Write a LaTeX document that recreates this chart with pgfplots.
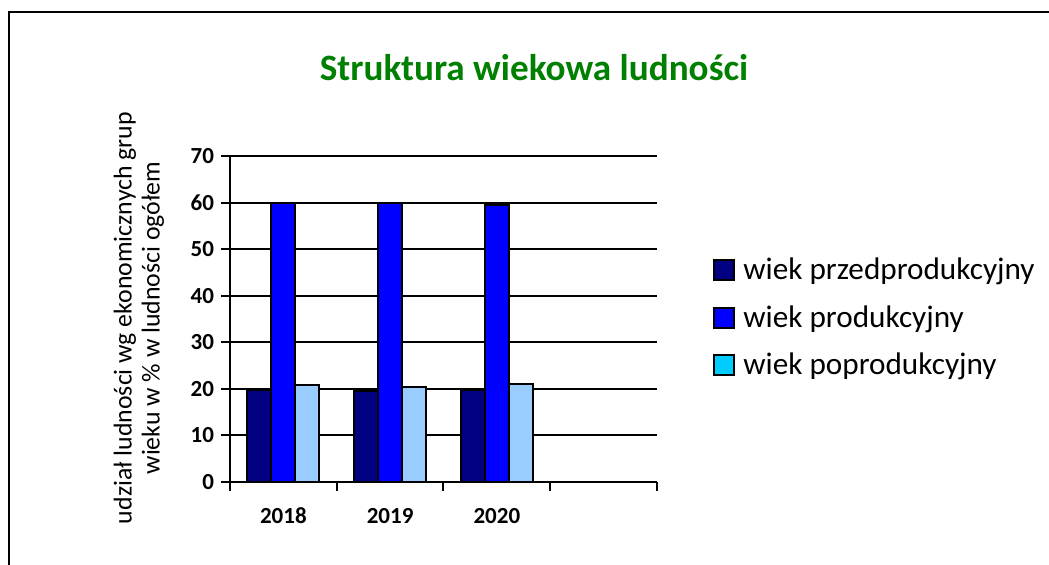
\documentclass[border=0pt]{standalone}
\usepackage{pgfplots}
\pgfplotsset{compat=1.18}
\usepackage{fontspec}
\setmainfont{Carlito}
\definecolor{cDark}{HTML}{000080}
\definecolor{cBlue}{HTML}{0000FF}
\definecolor{cLight}{HTML}{99CCFF}
\definecolor{cCyan}{HTML}{00CCFF}
\definecolor{cTitle}{HTML}{008000}
\begin{document}
\begin{tikzpicture}
\begin{scope}[x=0.5pt,y=-0.5pt]
\useasboundingbox (0,0) rectangle (1049,565);
\draw[line width=1pt] (9,565) -- (9,12) -- (1049,12);
\node[font=\fontsize{18.6pt}{22pt}\selectfont\bfseries, text=cTitle] at (534,68) {Struktura wiekowa ludności};
\node[rotate=90, align=center, font=\fontsize{12.9pt}{14pt}\selectfont] at (139,318) {udział ludności wg ekonomicznych grup\\wieku w \% w ludności ogółem};
\end{scope}
\begin{axis}[
  at={(115pt,-241pt)}, anchor=south west,
  scale only axis, width=213.5pt, height=163pt,
  ymin=0, ymax=70, ytick={0,10,...,70},
  xmin=-0.5, xmax=3.5,
  xtick={-0.5,0.5,1.5,2.5,3.5}, xticklabels={,,,,},
  extra x ticks={0,1,2}, extra x tick labels={2018,2019,2020},
  extra x tick style={major tick length=0pt, tick style={draw=none}, xticklabel style={yshift=-9.5pt}},
  axis x line*=bottom, axis y line*=left,
  axis line style={-, line width=1pt, black},
  tick align=outside, major tick length=4.5pt,
  tick style={black, line width=1pt},
  ymajorgrids, grid style={black, line width=1pt},
  /pgf/number format/assume math mode=true,
  ticklabel style={font=\fontsize{11.5pt}{13pt}\selectfont\bfseries},
  ybar=0pt, bar width=12pt,
  legend style={at={(1.131,0.504)}, anchor=west, draw=none, fill=none,
    font=\fontsize{15.6pt}{18pt}\selectfont, row sep=9.5pt, inner sep=0pt,
    nodes={inner sep=1pt}},
  legend cell align=left,
  legend image code/.code={\draw[#1, draw=black, line width=1pt] (0pt,-5pt) rectangle (10pt,5pt); \path (13pt,0pt);},
]
\addplot[fill=cDark, draw=black, line width=1pt] coordinates {(0,19.8) (1,19.5) (2,19.7)};
\addlegendentry{wiek przedprodukcyjny}
\addplot[fill=cBlue, draw=black, line width=1pt] coordinates {(0,60.0) (1,60.0) (2,59.4)};
\addlegendentry{wiek produkcyjny}
\addplot[fill=cLight, draw=black, line width=1pt,
  legend image code/.code={\draw[fill=cCyan, draw=black, line width=1pt] (0pt,-5pt) rectangle (10pt,5pt); \path (13pt,0pt);}] coordinates {(0,20.8) (1,20.4) (2,21.0)};
\addlegendentry{wiek poprodukcyjny}
\end{axis}
\end{tikzpicture}
\end{document}
